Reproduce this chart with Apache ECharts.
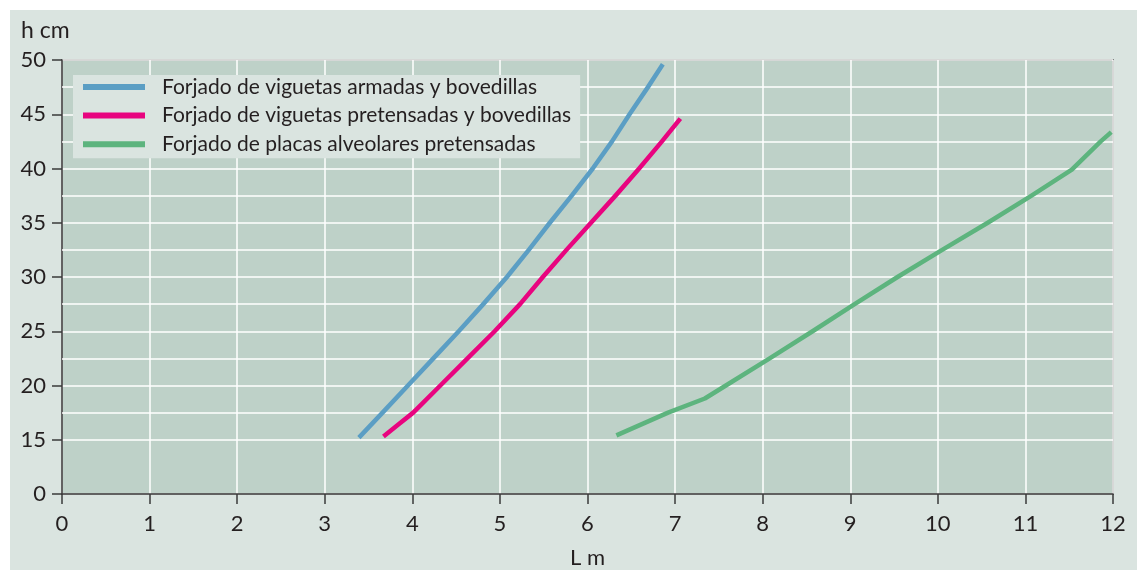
<!DOCTYPE html>
<html>
<head>
<meta charset="utf-8">
<script src="https://cdn.jsdelivr.net/npm/echarts@6/dist/echarts.min.js"></script>
<style>
  html, body { margin: 0; padding: 0; background: #ffffff; width: 1137px; height: 570px; overflow: hidden; }
  #chart { position: absolute; left: 10px; top: 10px; width: 1127px; height: 560px; background: #dae4e0; }
</style>
</head>
<body>
<div id="chart"></div>
<script>
// ---- data (L in m, h in cm) ----
const seriesNames = [
  'Forjado de viguetas armadas y bovedillas',
  'Forjado de viguetas pretensadas y bovedillas',
  'Forjado de placas alveolares pretensadas'
];
const armadasL = [3.39, 3.66, 3.95, 4.24, 4.53, 4.81, 5.08, 5.33, 5.57, 5.82, 6.06, 6.28, 6.48, 6.69, 6.86];
const armadasH = [15.2, 17.5, 20.0, 22.5, 25.0, 27.5, 30.0, 32.5, 35.0, 37.5, 40.0, 42.5, 45.0, 47.5, 49.6];
const pretensL = [3.67, 3.84, 4.01, 4.32, 4.63, 4.94, 5.23, 5.49, 5.76, 6.04, 6.32, 6.59, 6.85, 7.06];
const pretensH = [15.3, 16.4, 17.5, 20.0, 22.5, 25.0, 27.5, 30.0, 32.5, 35.0, 37.5, 40.0, 42.5, 44.6];
const placasL = [6.33, 6.92, 7.34, 7.58, 8.08, 8.57, 9.05, 9.54, 10.05, 10.57, 11.07, 11.53, 11.86, 11.98];
const placasH = [15.4, 17.5, 18.8, 20.0, 22.5, 25.0, 27.5, 30.0, 32.5, 35.0, 37.5, 39.9, 42.5, 43.35];
const seriesColors = ['#5b9ec4', '#e8047f', '#5db47e'];

// axis settings
const xMin = 0, xMax = 12, xStep = 1;
const yMin = 10, yMax = 50, yStep = 5;       // the axis is broken: the bottom tick is labelled "0"
const yBottomLabel = '0';
const yHalfGrid = [17.5, 22.5, 27.5, 32.5, 37.5, 42.5, 47.5];
const xAxisTitle = 'L m';
const yAxisTitle = 'h cm';

const zip = (a, b) => a.map((v, i) => [v, b[i]]);
const textColor = '#241f20';
const fontFamily = 'Lato, "Noto Sans", sans-serif';

const chart = echarts.init(document.getElementById('chart'));
const lineSeries = [zip(armadasL, armadasH), zip(pretensL, pretensH), zip(placasL, placasH)].map((d, i) => ({
  name: seriesNames[i],
  type: 'line',
  data: d,
  showSymbol: false,
  symbol: 'none',
  lineStyle: { color: seriesColors[i], width: 4.5, cap: 'butt', join: 'round' },
  itemStyle: { color: seriesColors[i] },
  z: 5
}));
// half-step horizontal grid lines
lineSeries.push({
  name: 'halfgrid',
  type: 'line',
  data: [],
  z: 1,
  markLine: {
    silent: true,
    symbol: 'none',
    label: { show: false },
    lineStyle: { color: '#ffffff', width: 1.5, type: 'solid' },
    emphasis: { disabled: true },
    data: yHalfGrid.map(v => ({ yAxis: v }))
  }
});

chart.setOption({
  animation: false,
  textStyle: { fontFamily: fontFamily, color: textColor },
  grid: {
    left: 52, top: 50, right: 24, bottom: 76,
    containLabel: false,
    outerBoundsMode: 'none',
    show: true, backgroundColor: '#bed1c8', borderColor: '#3a3a3a', borderWidth: 1.5
  },
  legend: {
    data: seriesNames,
    orient: 'vertical',
    left: 63, top: 65,
    z: 30,
    backgroundColor: '#dae4e0',
    padding: [1, 9, 3, 10],
    itemGap: 6.6,
    itemWidth: 62, itemHeight: 6,
    icon: 'rect',
    selectedMode: false,
    textStyle: { fontFamily: fontFamily, fontSize: 21, color: textColor, lineHeight: 22, padding: [0, 0, 0, 12] }
  },
  xAxis: {
    type: 'value',
    min: xMin, max: xMax, interval: xStep,
    name: xAxisTitle,
    nameLocation: 'middle',
    nameGap: 53,
    nameTextStyle: { fontFamily: fontFamily, fontSize: 22, color: textColor },
    axisLine: { show: true, lineStyle: { color: '#3a3a3a', width: 1.5 } },
    axisTick: { show: true, length: 10, lineStyle: { color: '#3a3a3a', width: 1.5 } },
    axisLabel: { fontFamily: fontFamily, fontSize: 22, color: textColor, margin: 19 },
    splitLine: { show: true, lineStyle: { color: '#ffffff', width: 1.5 } }
  },
  yAxis: {
    type: 'value',
    min: yMin, max: yMax, interval: yStep,
    name: yAxisTitle,
    nameLocation: 'end',
    nameGap: 18,
    nameTextStyle: { fontFamily: fontFamily, fontSize: 23, color: textColor, align: 'left', padding: [0, 0, 0, -41] },
    axisLine: { show: true, lineStyle: { color: '#3a3a3a', width: 1.5 } },
    axisTick: { show: true, length: 10, lineStyle: { color: '#3a3a3a', width: 1.5 } },
    axisLabel: {
      fontFamily: fontFamily, fontSize: 22, color: textColor, margin: 16,
      formatter: v => (v === yMin ? yBottomLabel : String(v))
    },
    splitLine: { show: true, lineStyle: { color: '#ffffff', width: 1.5 } }
  },
  series: lineSeries
});
</script>
</body>
</html>
